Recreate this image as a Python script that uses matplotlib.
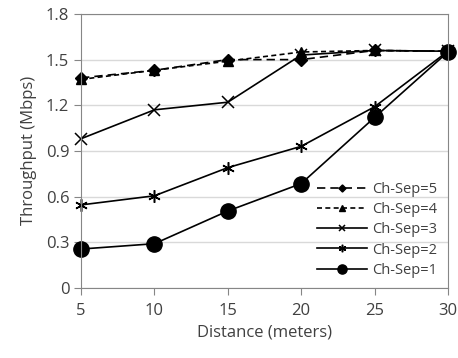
import matplotlib
matplotlib.use("Agg")
import matplotlib.pyplot as plt

distance = [5, 10, 15, 20, 25, 30]
ch5 = [1.38, 1.43, 1.50, 1.50, 1.56, 1.555]
ch4 = [1.37, 1.43, 1.49, 1.55, 1.56, 1.555]
ch3 = [0.98, 1.17, 1.22, 1.53, 1.56, 1.555]
ch2 = [0.545, 0.605, 0.79, 0.93, 1.19, 1.555]
ch1 = [0.255, 0.29, 0.505, 0.685, 1.12, 1.55]
yticks = [0, 0.3, 0.6, 0.9, 1.2, 1.5, 1.8]
ytick_labels = ["0", "0.3", "0.6", "0.9", "1.2", "1.5", "1.8"]

plt.rcParams['font.family'] = ['Open Sans', 'DejaVu Sans']
fig = plt.figure(figsize=(4.58, 3.58), dpi=100)
ax = fig.add_axes([0.177, 0.196, 0.801, 0.765])

lw = 1.2
ax.plot(distance, ch5, color='black', lw=lw, ls=(0, (5, 3)), marker='D', ms=6, label='Ch-Sep=5', clip_on=False)
ax.plot(distance, ch4, color='black', lw=lw, ls=(0, (3, 2)), marker='^', ms=7, label='Ch-Sep=4', clip_on=False)
ax.plot(distance, ch3, color='black', lw=lw, ls='-', marker='x', ms=8, mew=1.1, label='Ch-Sep=3', clip_on=False)
ax.plot(distance, ch2, color='black', lw=lw, ls='-', marker=(6, 2, 0), ms=9, mew=1.1, label='Ch-Sep=2', clip_on=False)
ax.plot(distance, ch1, color='black', lw=lw, ls='-', marker='o', ms=11, label='Ch-Sep=1', clip_on=False)

ax.set_xlim(5, 30)
ax.set_ylim(0, 1.8)
ax.set_xticks(distance)
ax.set_yticks(yticks)
ax.set_yticklabels(ytick_labels)
ax.yaxis.grid(True, color='#d9d9d9', lw=1)
ax.set_axisbelow(True)
for s in ax.spines.values():
    s.set_color('#868686')
ax.tick_params(axis='both', colors='#868686', labelcolor='#404040', labelsize=12, length=5, direction='out')
ax.tick_params(axis='x', pad=6)
ax.set_xlabel('Distance (meters)', fontsize=12, color='#404040', labelpad=4)
ax.set_ylabel('Throughput (Mbps)', fontsize=12, color='#404040', labelpad=6)

leg = ax.legend(loc='lower right', frameon=False, fontsize=10.5, handlelength=3.4,
                labelspacing=0.35, handletextpad=0.4, borderaxespad=0.3, markerscale=0.6)
for t in leg.get_texts():
    t.set_color('#404040')

fig.savefig('out.png', dpi=100)
